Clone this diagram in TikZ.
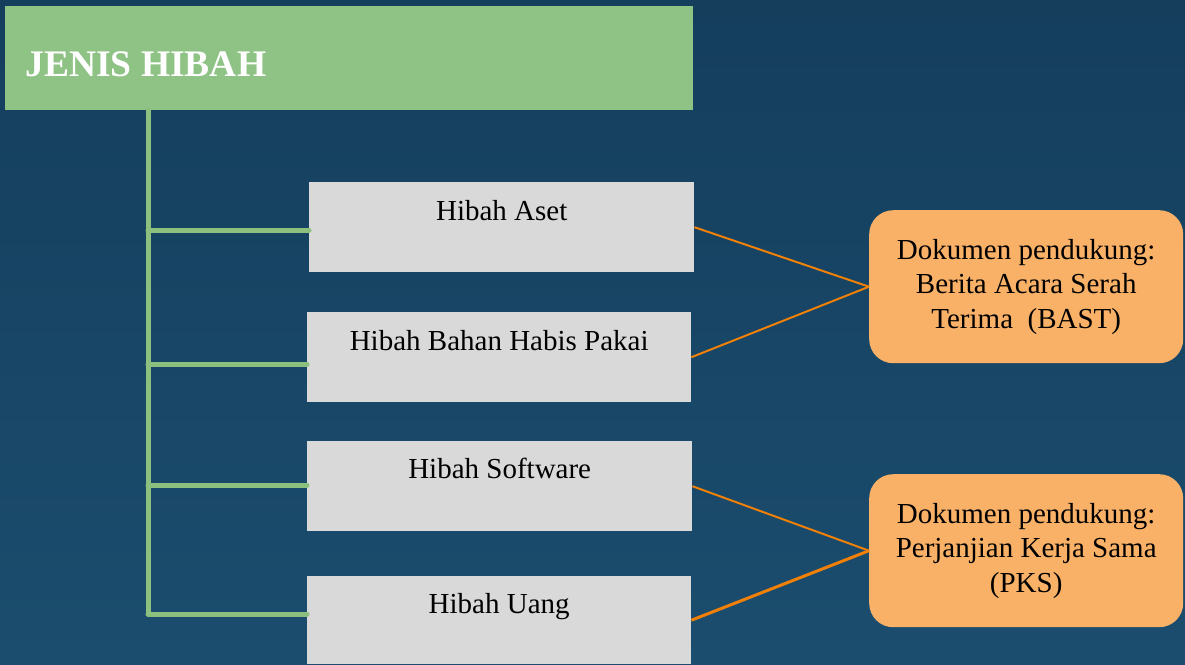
\documentclass[tikz,border=0pt]{standalone}
\usepackage{fontspec}
\setmainfont{Liberation Serif}
\definecolor{bgtop}{RGB}{21,62,93}
\definecolor{bgbot}{RGB}{27,77,110}
\definecolor{titlegreen}{RGB}{143,195,133}
\definecolor{linegreen}{RGB}{140,192,127}
\definecolor{boxgray}{RGB}{217,217,217}
\definecolor{docorange}{RGB}{249,177,104}
\definecolor{lineorange}{RGB}{240,128,8}
\begin{document}
\begin{tikzpicture}[x=1pt,y=-1pt,
  titlebox/.style={fill=titlegreen,draw=none,inner sep=0pt,anchor=north west},
  graybox/.style={fill=boxgray,draw=none,inner sep=0pt,anchor=north west,minimum height=90pt},
  doc/.style={fill=docorange,draw=none,rounded corners=24pt,inner sep=0pt,anchor=north west,minimum width=314pt,minimum height=153pt,align=center,font=\fontsize{29}{34.5}\selectfont},
  itemtext/.style={anchor=base,font=\fontsize{29}{34}\selectfont,text=black},
  branch/.style={draw=linegreen,line width=5pt,line cap=round},
  link/.style={draw=lineorange,line width=2pt}]
\useasboundingbox (0,0) rectangle (1185,664);
\shade[top color=bgtop,bottom color=bgbot] (0,0) rectangle (1185,664);
% title
\node[titlebox,minimum width=688pt,minimum height=104pt] (title) at (5,6) {};
\node[anchor=base west,text=white,font=\fontsize{37.5}{40}\selectfont\bfseries] (titletext) at (22,76) {JENIS HIBAH};
% gray boxes
\node[graybox,minimum width=385pt] (a) at (309,182) {};
\node[graybox,minimum width=384pt] (b) at (307,312) {};
\node[graybox,minimum width=385pt] (c) at (307,441) {};
\node[graybox,minimum width=384pt,minimum height=88pt] (d) at (307,576) {};
\node[itemtext] (at) at ([yshift=-38pt]a.north) {Hibah Aset};
\node[itemtext] (bt) at ([yshift=-38pt]b.north) {Hibah Bahan Habis Pakai};
\node[itemtext] (ct) at ([yshift=-37pt]c.north) {Hibah Software};
\node[itemtext] (dt) at ([yshift=-37pt]d.north) {Hibah Uang};
% orange boxes
\node[doc] (bast) at (869,210) {Dokumen pendukung:\\Berita Acara Serah\\Terima\ \ (BAST)};
\node[doc] (pks) at (869,474) {Dokumen pendukung:\\Perjanjian Kerja Sama\\(PKS)};
% green tree
\coordinate (top) at (148,110);
\coordinate (t1) at (148,230);
\coordinate (t2) at (148,364);
\coordinate (t3) at (148,485);
\coordinate (t4) at (148,614);
\draw[branch] (top) -- (t4);
\draw[branch] (t1) -- (t1 -| a.west);
\draw[branch] (t2) -- (t2 -| b.west);
\draw[branch] (t3) -- (t3 -| c.west);
\draw[branch] (t4) -- (t4 -| d.west);
% orange links
\draw[link] (a.east) -- (bast.west);
\draw[link] (b.east) -- (bast.west);
\draw[link] (c.east) -- (pks.west);
\draw[link,line width=3pt] (d.east) -- (pks.west);
\end{tikzpicture}
\end{document}
